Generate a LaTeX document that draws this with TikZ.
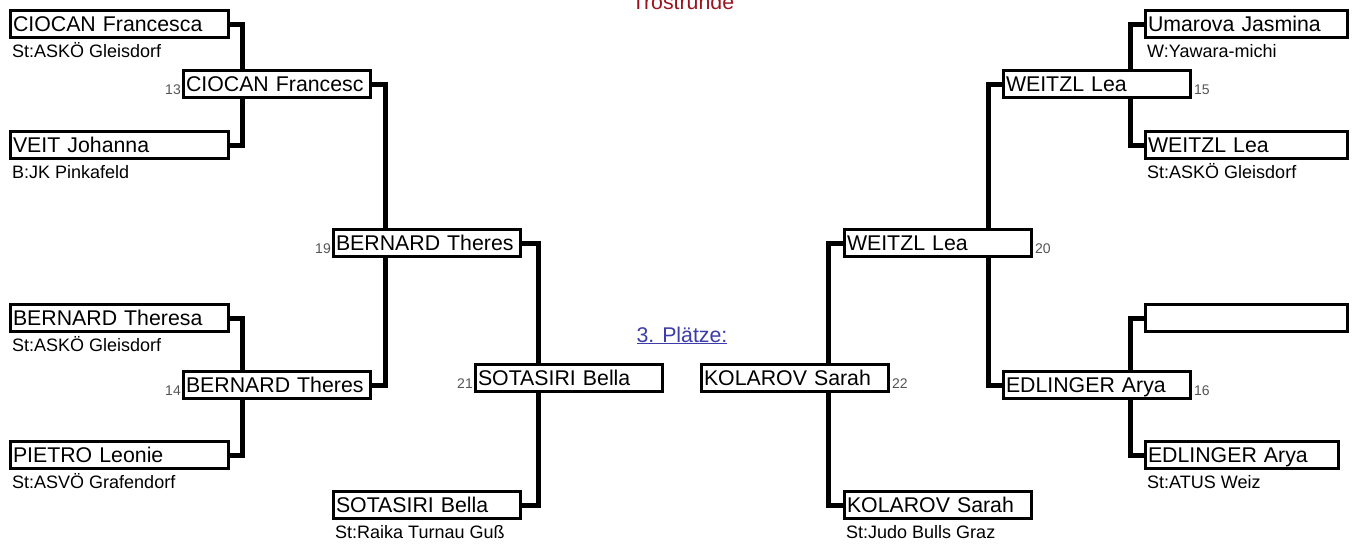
\documentclass[tikz,border=0pt]{standalone}
\usepackage{fontspec}
\setmainfont{Liberation Sans}
\usetikzlibrary{calc,backgrounds}
\newcommand\namefont{\fontsize{21.3}{24}\selectfont}
\newcommand\clubfont{\fontsize{18}{20}\selectfont}
\newcommand\numfont{\fontsize{14}{16}\selectfont}
\definecolor{numgrey}{HTML}{555555}
\definecolor{trored}{HTML}{9A1420}
\definecolor{plblue}{HTML}{3C3CAA}
\tikzset{
  pbox/.style={draw, line width=3pt, fill=white, inner xsep=2.5pt, inner ysep=0pt,
    minimum height=27pt, text height=15.5pt, text depth=0pt, align=left,
    anchor=west, font=\namefont, text width=#1},
  wA/.style={pbox=213pt},
  wB/.style={pbox=182pt},
  wC/.style={pbox=197pt},
  wD/.style={pbox=188pt},
  club/.style={anchor=base west, inner sep=0pt, font=\clubfont},
  numL/.style={anchor=base east, inner sep=0pt, font=\numfont, text=numgrey},
  numR/.style={anchor=base west, inner sep=0pt, font=\numfont, text=numgrey},
  conn/.style={line width=5pt, line join=miter},
}
\begin{document}
\begin{tikzpicture}[x=1pt,y=-1pt]
\useasboundingbox (0,0) rectangle (1357,544);
% left side
\node[wA] (a1) at (9,24) {CIOCAN Francesca};
\node[wA] (a2) at (9,145) {VEIT Johanna};
\node[wA] (a3) at (9,318) {BERNARD Theresa};
\node[wA] (a4) at (9,455) {PIETRO Leonie};
\node[wB] (b13) at (182,84) {CIOCAN Francesc};
\node[wB] (b14) at (182,385) {BERNARD Theres};
\node[wB] (c19) at (332,243) {BERNARD Theres};
\node[wB] (d21) at (474,378) {SOTASIRI Bella};
\node[wB] (e1) at (332,505) {SOTASIRI Bella};
% right side
\node[wB] (f22) at (700,378) {KOLAROV Sarah};
\node[wB] (g1) at (843,505) {KOLAROV Sarah};
\node[wB] (h20) at (843,243) {WEITZL Lea};
\node[wB] (i15) at (1002,84) {WEITZL Lea};
\node[wC] (j1) at (1144,24) {Umarova Jasmina};
\node[wC] (k1) at (1144,145) {WEITZL Lea};
\node[wC] (l1) at (1144,318) {};
\node[wB] (m16) at (1002,385) {EDLINGER Arya};
\node[wD] (n1) at (1144,455) {EDLINGER Arya};
% clubs
\node[club] (ca1) at (12,57) {St:ASKÖ Gleisdorf};
\node[club] (ca2) at (12,178) {B:JK Pinkafeld};
\node[club] (ca3) at (12,351) {St:ASKÖ Gleisdorf};
\node[club] (ca4) at (12,488) {St:ASVÖ Grafendorf};
\node[club] (ce1) at (335,538) {St:Raika Turnau Guß};
\node[club] (cg1) at (846,538) {St:Judo Bulls Graz};
\node[club] (cj1) at (1147,57) {W:Yawara-michi};
\node[club] (ck1) at (1147,178) {St:ASKÖ Gleisdorf};
\node[club] (cn1) at (1147,488) {St:ATUS Weiz};
% numbers
\node[numL] (n13) at ($(b13.west)+(-1,10)$) {13};
\node[numL] (n14) at ($(b14.west)+(-1,10)$) {14};
\node[numL] (n19) at ($(c19.west)+(-1,10)$) {19};
\node[numL] (n21) at ($(d21.west)+(-1,10)$) {21};
\node[numR] (n22) at ($(f22.east)+(2,10)$) {22};
\node[numR] (n20) at ($(h20.east)+(2,10)$) {20};
\node[numR] (n15) at ($(i15.east)+(2,10)$) {15};
\node[numR] (n16) at ($(m16.east)+(2,10)$) {16};
% titles
\node[anchor=base, inner sep=0pt, font=\namefont, text=trored] (tro) at (683,9) {Trostrunde};
\node[anchor=base, inner sep=0pt, font=\namefont, text=plblue] (pl) at (682,342) {\underline{3. Plätze:}};
% connectors
\begin{scope}[on background layer]
\draw[conn] (a1.east) -- ++(12,0) |- (a2.east);
\draw[conn] (a3.east) -- ++(12,0) |- (a4.east);
\draw[conn] (b13.east) -- ++(13,0) |- (b14.east);
\draw[conn] (c19.east) -- ++(16,0) |- (e1.east);
\draw[conn] (j1.west) -- ++(-14,0) |- (k1.west);
\draw[conn] (l1.west) -- ++(-14,0) |- (n1.west);
\draw[conn] (i15.west) -- ++(-14,0) |- (m16.west);
\draw[conn] (h20.west) -- ++(-15,0) |- (g1.west);
\end{scope}
\end{tikzpicture}
\end{document}
